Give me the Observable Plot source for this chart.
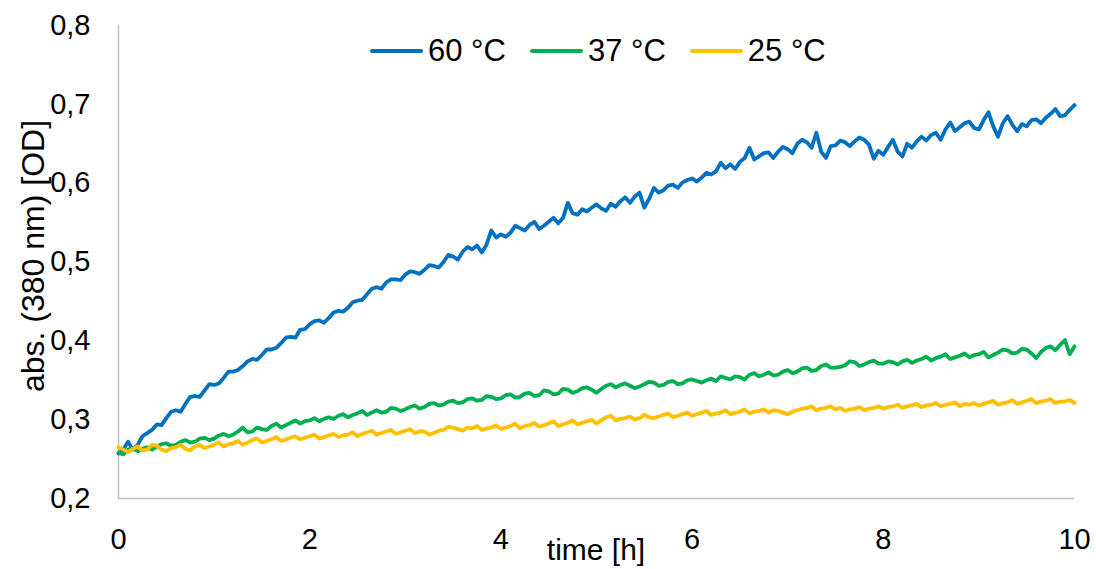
<!DOCTYPE html>
<html>
<head>
<meta charset="utf-8">
<script src="https://cdn.jsdelivr.net/npm/d3@7"></script>
<script src="https://cdn.jsdelivr.net/npm/@observablehq/plot@0.6"></script>
<style>
  html, body { margin: 0; padding: 0; background: #fff; }
  #wrap { position: relative; width: 1096px; height: 569px; font-family: "Liberation Sans", Arial, sans-serif; color: #000; }
  #legend { position: absolute; left: 370px; top: 30px; display: flex; align-items: center; font-size: 31px; line-height: 42px; white-space: nowrap; }
  #legend .item { display: flex; align-items: center; margin-right: 24px; }
  #legend .sw { display: inline-block; width: 53px; height: 0; border-top: 4px solid; border-radius: 2px; margin-right: 5px; }
  #ytitle { position: absolute; left: 33px; top: 256px; transform: translate(-50%, -50%) rotate(-90deg); font-size: 32px; white-space: nowrap; }
  #xtitle { position: absolute; left: 596px; top: 550px; transform: translate(-50%, -50%); font-size: 30px; white-space: nowrap; }
</style>
</head>
<body>
<div id="wrap"></div>
<script>
// ---- data ----
const seriesNames = ["60 °C", "37 °C", "25 °C"];
const seriesColors = ["#0070C0", "#00B050", "#FFC000"];
const yTicks = [0.2, 0.3, 0.4, 0.5, 0.6, 0.7, 0.8];
const xTicks = [0, 2, 4, 6, 8, 10];
// sampling times in hours, every 0.05 h (3 min)
const timeHours = d3.range(0, 201).map(i => i / 20);

const abs60 = [
  0.257, 0.262, 0.272, 0.262, 0.268, 0.279, 0.283, 0.287, 0.294, 0.293,
  0.302, 0.310, 0.312, 0.310, 0.320, 0.329, 0.330, 0.329, 0.337, 0.345,
  0.344, 0.346, 0.353, 0.361, 0.361, 0.363, 0.368, 0.374, 0.377, 0.376,
  0.382, 0.389, 0.389, 0.391, 0.397, 0.404, 0.405, 0.404, 0.414, 0.415,
  0.421, 0.425, 0.426, 0.423, 0.429, 0.436, 0.438, 0.437, 0.442, 0.449,
  0.451, 0.452, 0.459, 0.466, 0.468, 0.466, 0.474, 0.478, 0.478, 0.477,
  0.484, 0.488, 0.487, 0.485, 0.490, 0.496, 0.495, 0.493, 0.500, 0.509,
  0.507, 0.503, 0.513, 0.519, 0.516, 0.521, 0.512, 0.522, 0.540, 0.531,
  0.535, 0.532, 0.537, 0.546, 0.543, 0.540, 0.547, 0.551, 0.542, 0.546,
  0.551, 0.556, 0.549, 0.556, 0.575, 0.562, 0.560, 0.567, 0.564, 0.569,
  0.573, 0.568, 0.565, 0.574, 0.570, 0.577, 0.582, 0.575, 0.583, 0.588,
  0.569, 0.580, 0.594, 0.588, 0.591, 0.597, 0.598, 0.594, 0.601, 0.604,
  0.606, 0.602, 0.607, 0.613, 0.611, 0.615, 0.626, 0.619, 0.624, 0.618,
  0.627, 0.632, 0.645, 0.630, 0.634, 0.638, 0.639, 0.632, 0.640, 0.646,
  0.643, 0.638, 0.650, 0.655, 0.652, 0.645, 0.664, 0.640, 0.632, 0.647,
  0.648, 0.654, 0.652, 0.647, 0.653, 0.658, 0.655, 0.649, 0.631, 0.641,
  0.636, 0.646, 0.655, 0.640, 0.634, 0.650, 0.645, 0.653, 0.659, 0.654,
  0.661, 0.664, 0.655, 0.668, 0.677, 0.666, 0.671, 0.676, 0.678, 0.670,
  0.668, 0.680, 0.690, 0.672, 0.659, 0.676, 0.685, 0.674, 0.666, 0.675,
  0.672, 0.680, 0.681, 0.676, 0.683, 0.688, 0.694, 0.685, 0.686, 0.693,
  0.699
];
const abs37 = [
  0.258, 0.256, 0.262, 0.264, 0.260, 0.263, 0.265, 0.262, 0.266, 0.269,
  0.270, 0.267, 0.268, 0.272, 0.274, 0.271, 0.272, 0.276, 0.277, 0.274,
  0.276, 0.280, 0.282, 0.279, 0.281, 0.285, 0.290, 0.284, 0.285, 0.290,
  0.288, 0.287, 0.292, 0.295, 0.290, 0.293, 0.296, 0.299, 0.295, 0.298,
  0.299, 0.302, 0.298, 0.301, 0.303, 0.301, 0.305, 0.307, 0.303, 0.306,
  0.308, 0.311, 0.306, 0.309, 0.312, 0.309, 0.310, 0.315, 0.314, 0.311,
  0.313, 0.316, 0.318, 0.314, 0.316, 0.320, 0.321, 0.318, 0.319, 0.323,
  0.324, 0.321, 0.322, 0.326, 0.327, 0.324, 0.325, 0.330, 0.329, 0.326,
  0.327, 0.331, 0.332, 0.328, 0.329, 0.333, 0.334, 0.330, 0.331, 0.337,
  0.336, 0.332, 0.333, 0.339, 0.338, 0.334, 0.336, 0.340, 0.341, 0.338,
  0.334, 0.339, 0.343, 0.345, 0.341, 0.344, 0.346, 0.343, 0.340, 0.342,
  0.345, 0.348, 0.347, 0.343, 0.344, 0.348, 0.349, 0.345, 0.346, 0.350,
  0.351, 0.349, 0.347, 0.350, 0.352, 0.349, 0.355, 0.353, 0.351, 0.355,
  0.354, 0.351, 0.357, 0.359, 0.355, 0.357, 0.360, 0.356, 0.357, 0.361,
  0.363, 0.359, 0.361, 0.365, 0.366, 0.362, 0.363, 0.368, 0.370, 0.366,
  0.366, 0.367, 0.369, 0.374, 0.373, 0.368, 0.370, 0.373, 0.375, 0.371,
  0.371, 0.374, 0.373, 0.370, 0.374, 0.376, 0.372, 0.375, 0.377, 0.380,
  0.375, 0.378, 0.380, 0.383, 0.377, 0.379, 0.381, 0.384, 0.379, 0.382,
  0.383, 0.386, 0.379, 0.382, 0.385, 0.389, 0.388, 0.384, 0.385, 0.390,
  0.389, 0.384, 0.378, 0.386, 0.391, 0.393, 0.388, 0.395, 0.401, 0.383,
  0.393
];
const abs25 = [
  0.265, 0.262, 0.259, 0.263, 0.266, 0.261, 0.262, 0.268, 0.267, 0.262,
  0.260, 0.264, 0.265, 0.268, 0.263, 0.261, 0.266, 0.268, 0.264, 0.266,
  0.268, 0.271, 0.266, 0.269, 0.270, 0.273, 0.268, 0.271, 0.274, 0.276,
  0.271, 0.273, 0.275, 0.278, 0.273, 0.275, 0.277, 0.279, 0.275, 0.277,
  0.279, 0.281, 0.276, 0.278, 0.280, 0.282, 0.278, 0.280, 0.281, 0.284,
  0.279, 0.282, 0.284, 0.286, 0.281, 0.283, 0.285, 0.287, 0.282, 0.284,
  0.286, 0.288, 0.283, 0.285, 0.285, 0.281, 0.283, 0.286, 0.287, 0.291,
  0.290, 0.288, 0.286, 0.290, 0.289, 0.292, 0.287, 0.289, 0.290, 0.293,
  0.288, 0.290, 0.292, 0.295, 0.289, 0.292, 0.293, 0.296, 0.291, 0.293,
  0.295, 0.298, 0.292, 0.294, 0.296, 0.299, 0.294, 0.296, 0.298, 0.300,
  0.295, 0.299, 0.303, 0.305, 0.299, 0.301, 0.302, 0.304, 0.300, 0.302,
  0.306, 0.303, 0.302, 0.304, 0.306, 0.308, 0.303, 0.305, 0.307, 0.309,
  0.305, 0.307, 0.309, 0.311, 0.306, 0.308, 0.309, 0.312, 0.307, 0.309,
  0.310, 0.313, 0.308, 0.310, 0.311, 0.313, 0.309, 0.312, 0.311, 0.309,
  0.307, 0.310, 0.312, 0.314, 0.315, 0.317, 0.312, 0.314, 0.315, 0.317,
  0.313, 0.315, 0.311, 0.313, 0.314, 0.316, 0.312, 0.314, 0.315, 0.317,
  0.314, 0.316, 0.317, 0.319, 0.315, 0.317, 0.318, 0.320, 0.316, 0.318,
  0.319, 0.321, 0.317, 0.319, 0.320, 0.322, 0.317, 0.320, 0.319, 0.321,
  0.318, 0.320, 0.322, 0.324, 0.319, 0.321, 0.322, 0.325, 0.320, 0.322,
  0.324, 0.326, 0.321, 0.323, 0.324, 0.326, 0.321, 0.323, 0.323, 0.325,
  0.321
];

// ---- build table ----
const seriesValues = [abs60, abs37, abs25];
const rows = [];
seriesNames.forEach((name, s) => {
  seriesValues[s].forEach((v, i) => rows.push({series: name, time: timeHours[i], abs: v}));
});
const fmt = d => d.toFixed(1).replace(".", ",");

const chart = Plot.plot({
  width: 1096,
  height: 569,
  marginLeft: 118,
  marginRight: 22,
  marginTop: 25,
  marginBottom: 71,
  style: {fontFamily: "'Liberation Sans', Arial, sans-serif", fontSize: "29px", color: "#000", background: "#fff"},
  x: {domain: [0, 10]},
  y: {domain: [0.2, 0.8]},
  color: {domain: seriesNames, range: seriesColors},
  marks: [
    Plot.ruleX([0], {stroke: "#bfbfbf", strokeWidth: 1.5}),
    Plot.ruleY([0.2], {stroke: "#bfbfbf", strokeWidth: 1.5}),
    Plot.axisY({ticks: yTicks, tickFormat: fmt, tickSize: 0, tickPadding: 28, label: null, fontSize: 29}),
    Plot.axisX({ticks: xTicks, tickFormat: d => String(d), tickSize: 0, tickPadding: 30, label: null, fontSize: 29}),
    Plot.line(rows, {x: "time", y: "abs", z: "series", stroke: "series", strokeWidth: 3.8, strokeLinejoin: "round", strokeLinecap: "round"})
  ]
});

const wrap = document.getElementById("wrap");
wrap.appendChild(chart);

// legend (HTML overlay at the top of the plot area)
const legend = document.createElement("div");
legend.id = "legend";
seriesNames.forEach((name, i) => {
  const item = document.createElement("div");
  item.className = "item";
  const sw = document.createElement("span");
  sw.className = "sw";
  sw.style.borderTopColor = seriesColors[i];
  const label = document.createElement("span");
  label.textContent = name;
  item.appendChild(sw);
  item.appendChild(label);
  legend.appendChild(item);
});
wrap.appendChild(legend);

const ytitle = document.createElement("div");
ytitle.id = "ytitle";
ytitle.textContent = "abs. (380 nm) [OD]";
wrap.appendChild(ytitle);

const xtitle = document.createElement("div");
xtitle.id = "xtitle";
xtitle.textContent = "time [h]";
wrap.appendChild(xtitle);
</script>
</body>
</html>
